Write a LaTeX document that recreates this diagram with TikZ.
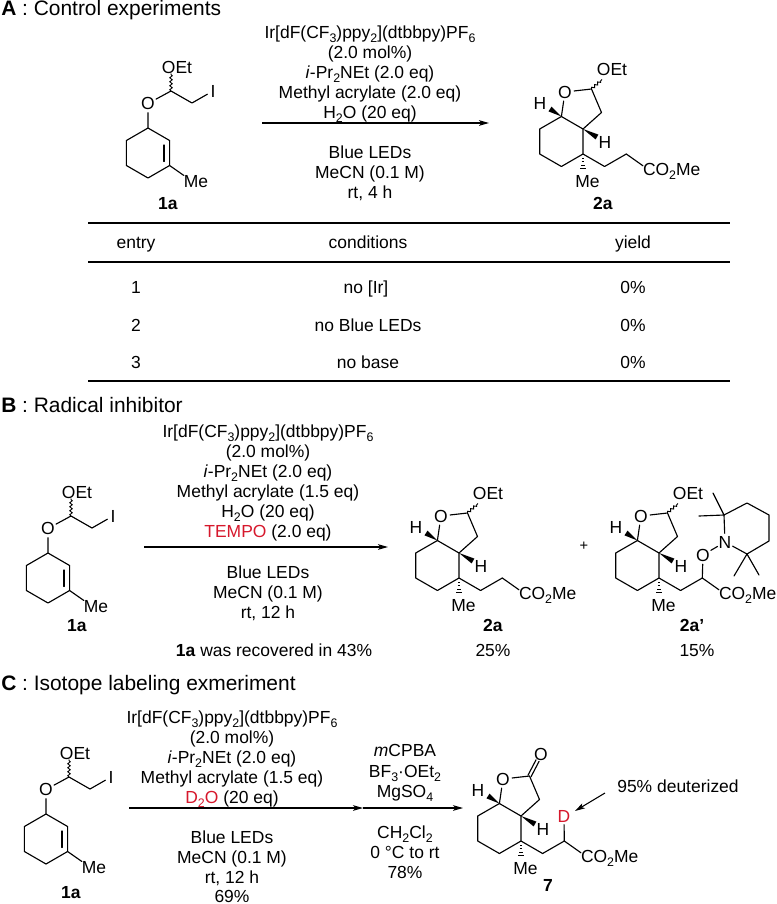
\documentclass[tikz,border=0pt]{standalone}
\usepackage{fontspec}
\setmainfont{Liberation Sans}
\usetikzlibrary{arrows.meta,calc,decorations.pathmorphing}
\definecolor{chemred}{RGB}{214,24,44}
\newcounter{tn}
\newcommand\sbs[1]{\raisebox{-0.27em}{\fontsize{9.3}{9.3}\selectfont #1}}
\tikzset{
  lbl/.style={anchor=base,inner sep=0pt,outer sep=0pt,font=\fontsize{13.1}{15}\selectfont},
  atom/.style={circle,inner sep=0pt,outer sep=0pt,minimum size=0pt,font=\fontsize{13.1}{15}\selectfont},
  head/.style={anchor=base west,inner sep=0pt,font=\fontsize{15.7}{18}\selectfont},
  bond/.style={line width=0.85pt,line cap=round,line join=round},
  rulel/.style={line width=1.05pt},
  arr/.style={line width=0.8pt,-{Stealth[length=7.5pt,width=4.2pt,inset=1.8pt]}},
  wavy/.style={line width=0.7pt,decorate,decoration={snake,segment length=3pt,amplitude=0.9pt}}
}
\newcommand\T[3]{\stepcounter{tn}\node[lbl] (t\arabic{tn}) at (#1,{#2+6.2}) {#3};}
% 1a: prefix, C1 x, C1 y, label x, label y
\newcommand\ena[5]{%
  \begin{scope}[shift={(#2,#3)}]
    \coordinate (#1a) at (0,0);
    \coordinate (#1b) at (21.6,12.5);
    \coordinate (#1c) at (21.6,37.5);
    \coordinate (#1d) at (0,50);
    \coordinate (#1e) at (-21.6,37.5);
    \coordinate (#1f) at (-21.6,12.5);
    \coordinate (#1g) at (23,-37);
    \coordinate (#1h) at (44,-25);
    \coordinate (#1i) at (16,17);
    \coordinate (#1j) at (16,33.5);
    \node[atom] (#1O) at (0,-24.5) {O};
    \node[atom] (#1I) at (65,-37) {I};
    \node[lbl] (#1E) at (29,-54.8) {OEt};
    \node[lbl] (#1M) at (48,59.5) {Me};
    \draw[bond] (#1a)--(#1b)--(#1c)--(#1d)--(#1e)--(#1f)--cycle;
    \draw[bond] (#1i)--(#1j);
    \draw[bond] (#1c)--(#1M.north west);
    \draw[bond] (#1a)--(#1O)--(#1g)--(#1h)--(#1I);
    \draw[wavy] (#1g)--(#1E.south-|#1g);
  \end{scope}
  \stepcounter{tn}\node[lbl] (t\arabic{tn}) at (#4,{#5+6.2}) {\textbf{1a}};
}
% bicyclic core: prefix, C3a x, y
\newcommand\core[3]{%
  \begin{scope}[shift={(#2,#3)}]
    \coordinate (#1a) at (0,0);
    \coordinate (#1b) at (0,25);
    \coordinate (#1c) at (-21.6,37.5);
    \coordinate (#1d) at (-43.3,25);
    \coordinate (#1e) at (-43.3,0);
    \coordinate (#1f) at (-21.6,-12.5);
    \coordinate (#1g) at (18.5,-16.5);
    \coordinate (#1k) at (8.5,-40);
    \coordinate (#1w) at (-33,-20);
    \coordinate (#1v) at (14,8);
    \coordinate (#1p) at (21.6,37.5);
    \coordinate (#1q) at (43.3,25);
    \node[atom] (#1O) at (-18,-37) {O};
    \node[atom] (#1H) at (-43,-26) {H};
    \node[atom] (#1J) at (22,13) {H};
    \node[lbl] (#1M) at (4.5,58.5) {Me};
    \draw[bond] (#1a)--(#1b)--(#1c)--(#1d)--(#1e)--(#1f)--cycle;
    \draw[bond] (#1f)--(#1O)--(#1k)--(#1g)--(#1a);
    \fill ($(#1f)$) -- ($(#1w)!2.1pt!90:(#1f)$) -- ($(#1w)!2.1pt!-90:(#1f)$) -- cycle;
    \fill ($(#1a)$) -- ($(#1v)!2.1pt!90:(#1a)$) -- ($(#1v)!2.1pt!-90:(#1a)$) -- cycle;
    \draw[line width=0.7pt] (-0.8,29)--(0.8,29) (-1.4,32.5)--(1.4,32.5) (-2,36)--(2,36) (-2.6,39.5)--(2.6,39.5);
    \draw[bond] (#1b)--(#1p)--(#1q);
    \node[lbl,anchor=base west] (#1C) at (60,46) {CO\sbs{2}Me};
    \draw[bond] (#1q)--($(#1C.north west)+(0,3)$);
  \end{scope}
}
\newcommand\oet[3]{%
  \begin{scope}[shift={(#2,#3)}]
    \node[lbl] (#1E) at (29,-53.8) {OEt};
    \draw[wavy] (#1k)--(19,-49.5);
  \end{scope}
}
\begin{document}
\begin{tikzpicture}[x=0.75pt,y=-0.75pt]
\useasboundingbox (0,0) rectangle (776,904);
%%% A
\node[head] (hA) at (1,15) {\textbf{A} : Control experiments};
\ena{aa}{148}{128}{168}{203}
\T{370}{32}{Ir[dF(CF\sbs{3})ppy\sbs{2}](dtbbpy)PF\sbs{6}}
\T{370}{52}{(2.0 mol\%)}
\T{370}{72}{\textit{i}-Pr\sbs{2}NEt (2.0 eq)}
\T{370}{92}{Methyl acrylate (2.0 eq)}
\T{370}{112}{H\sbs{2}O (20 eq)}
\T{370}{152}{Blue LEDs}
\T{370}{172}{MeCN (0.1 M)}
\T{370}{192}{rt, 4 h}
\coordinate (a1) at (262,123); \coordinate (a2) at (489,123);
\draw[arr] (a1)--(a2);
\core{pa}{583}{129}
\oet{pa}{583}{129}
\T{603}{203}{\textbf{2a}}
% table
\coordinate (r1a) at (88,223); \coordinate (r1b) at (730,223);
\coordinate (r2a) at (88,262); \coordinate (r2b) at (730,262);
\coordinate (r3a) at (88,381); \coordinate (r3b) at (730,381);
\draw[rulel] (r1a)--(r1b);
\draw[rulel] (r2a)--(r2b);
\draw[rulel] (r3a)--(r3b);
\T{136}{242}{entry}
\T{368}{242}{conditions}
\T{633}{242}{yield}
\T{136}{287}{1}
\T{366}{287}{no [Ir]}
\T{633}{287}{0\%}
\T{136}{325}{2}
\T{368}{325}{no Blue LEDs}
\T{633}{325}{0\%}
\T{136}{362}{3}
\T{368}{362}{no base}
\T{633}{362}{0\%}
%%% B
\node[head] (hB) at (1,412) {\textbf{B} : Radical inhibitor};
\ena{ab}{48}{553}{77}{625}
\T{268}{431}{Ir[dF(CF\sbs{3})ppy\sbs{2}](dtbbpy)PF\sbs{6}}
\T{268}{451}{(2.0 mol\%)}
\T{268}{471}{\textit{i}-Pr\sbs{2}NEt (2.0 eq)}
\T{268}{491}{Methyl acrylate (1.5 eq)}
\T{268}{511}{H\sbs{2}O (20 eq)}
\T{268}{531}{\textcolor{chemred}{TEMPO} (2.0 eq)}
\T{268}{572}{Blue LEDs}
\T{268}{592}{MeCN (0.1 M)}
\T{268}{612}{rt, 12 h}
\T{274}{650}{\textbf{1a} was recovered in 43\%}
\coordinate (b1) at (144,547); \coordinate (b2) at (388,547);
\draw[arr] (b1)--(b2);
\core{pb}{459}{553}
\oet{pb}{459}{553}
\T{493}{625}{\textbf{2a}}
\T{493}{650}{25\%}
\node[lbl,font=\fontsize{11}{12}\selectfont,anchor=center] (plus) at (584,546) {+};
\core{pc}{659}{553}
\oet{pc}{659}{553}
\T{692}{625}{\textbf{2a’}}
\T{697}{650}{15\%}
% TEMPO fragment
\node[atom] (cO) at (703,555) {O};
\node[atom] (cN) at (725,542) {N};
\coordinate (t2) at (724,515);
\coordinate (t3) at (747,503);
\coordinate (t4) at (769,515);
\coordinate (t5) at (769,541);
\coordinate (t6) at (747,554);
\coordinate (m1) at (713,493);
\coordinate (m2) at (699,516);
\coordinate (m3) at (734,576);
\coordinate (m4) at (759,575);
\draw[bond] (pcq)--(cO);
\draw[bond] (cO)--(cN);
\draw[bond] (cN)--(t2)--(t3)--(t4)--(t5)--(t6)--(cN);
\draw[bond] (m1)--(t2)--(m2);
\draw[bond] (m3)--(t6)--(m4);
%%% C
\node[head] (hC) at (1,690) {\textbf{C} : Isotope labeling exmeriment};
\ena{ac}{46}{814}{71}{892}
\T{232}{717}{Ir[dF(CF\sbs{3})ppy\sbs{2}](dtbbpy)PF\sbs{6}}
\T{232}{737}{(2.0 mol\%)}
\T{232}{757}{\textit{i}-Pr\sbs{2}NEt (2.0 eq)}
\T{232}{777}{Methyl acrylate (1.5 eq)}
\T{232}{797}{\textcolor{chemred}{D\sbs{2}O} (20 eq)}
\T{232}{837}{Blue LEDs}
\T{232}{857}{MeCN (0.1 M)}
\T{232}{877}{rt, 12 h}
\T{232}{896}{69\%}
\coordinate (c1) at (129,808); \coordinate (c2) at (363,808); \coordinate (c3) at (463,808);
\draw[arr] (c1)--(c2);
\draw[arr] (c2)--(c3);
\T{405}{750}{\textit{m}CPBA}
\T{405}{771}{BF\sbs{3}·OEt\sbs{2}}
\T{405}{791}{MgSO\sbs{4}}
\T{405}{832}{CH\sbs{2}Cl\sbs{2}}
\T{405}{852}{0 °C to rt}
\T{405}{872}{78\%}
\core{pd}{521}{816}
\node[atom] (dO) at (541,754) {O};
\coordinate (dA) at ($(pdk)+(-1.5,-0.8)$);
\coordinate (dB) at ($(pdk)+(1.5,0.8)$);
\coordinate (dC) at ($(dO)!0.3!(pdk)+(-1.5,-0.8)$);
\coordinate (dE) at ($(dO)!0.3!(pdk)+(1.5,0.8)$);
\draw[bond] (dA)--(dC);
\draw[bond] (dB)--(dE);
\node[atom,text=chemred] (dD) at (564,816) {D};
\draw[bond] (pdq)--(dD);
\T{548}{885}{\textbf{7}}
\T{678}{786}{95\% deuterized}
\coordinate (e1) at (605,793); \coordinate (e2) at (575,811);
\draw[arr] (e1)--(e2);
\end{tikzpicture}
\end{document}
